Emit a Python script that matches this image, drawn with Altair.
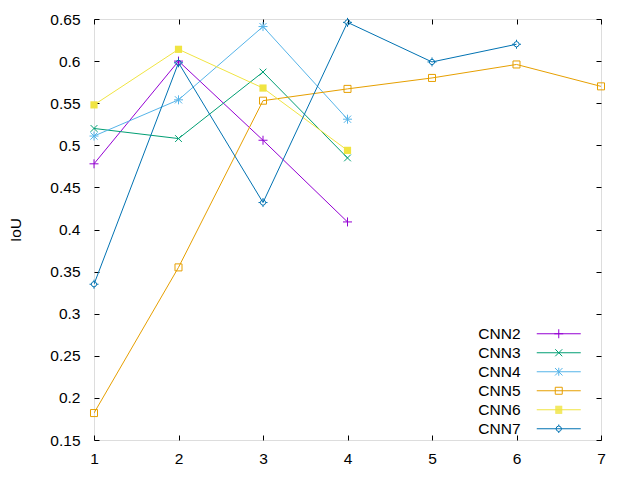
import altair as alt
import pandas as pd

series = ["CNN2", "CNN3", "CNN4", "CNN5", "CNN6", "CNN7"]
colors = ["#9400d3", "#009e73", "#56b4e9", "#e69f00", "#f0e442", "#0072b2"]

x_cnn2 = [1, 2, 3, 4]
iou_cnn2 = [0.478, 0.600, 0.506, 0.409]
x_cnn3 = [1, 2, 3, 4]
iou_cnn3 = [0.520, 0.508, 0.587, 0.485]
x_cnn4 = [1, 2, 3, 4]
iou_cnn4 = [0.511, 0.554, 0.641, 0.531]
x_cnn5 = [1, 2, 3, 4, 5, 6, 7]
iou_cnn5 = [0.182, 0.355, 0.553, 0.567, 0.580, 0.596, 0.570]
x_cnn6 = [1, 2, 3, 4]
iou_cnn6 = [0.548, 0.614, 0.568, 0.494]
x_cnn7 = [1, 2, 3, 4, 5, 6]
iou_cnn7 = [0.335, 0.598, 0.432, 0.646, 0.599, 0.620]

x_ticks = [1, 2, 3, 4, 5, 6, 7]
y_ticks = [0.15, 0.2, 0.25, 0.3, 0.35, 0.4, 0.45, 0.5, 0.55, 0.6, 0.65]

xs = [x_cnn2, x_cnn3, x_cnn4, x_cnn5, x_cnn6, x_cnn7]
ys = [iou_cnn2, iou_cnn3, iou_cnn4, iou_cnn5, iou_cnn6, iou_cnn7]
rows = []
for name, xv, yv in zip(series, xs, ys):
    for a, b in zip(xv, yv):
        rows.append({"series": name, "epoch": a, "iou": b})
df = pd.DataFrame(rows)

W, H = 507, 421
FONT = "Liberation Sans"
FS = 15.5


def ring(r):
    d = r * 0.707
    pts = [(r, 0), (d, d), (0, r), (-d, d), (-r, 0), (-d, -d), (0, -r), (d, -d)]
    return "M" + "L".join(f"{a:.3f},{b:.3f}" for a, b in pts) + "Z"


# plot markers (unit paths)
plus = "M-1,0L1,0M0,-1L0,1"
cross = "M-0.75,-0.75L0.75,0.75M-0.75,0.75L0.75,-0.75"
star = plus + "M-0.8,-0.8L0.8,0.8M-0.8,0.8L0.8,-0.8"
osq = "M-0.78,-0.78L0.78,-0.78L0.78,0.78L-0.78,0.78Z"
fsq = "M-0.8,-0.8L0.8,-0.8L0.8,0.8L-0.8,0.8Z"
circ = ring(0.6) + "M-1,0L-0.6,0M0.6,0L1,0M0,-1L0,-0.6M0,0.6L0,1"
marker_paths = [plus, cross, star, osq, fsq, circ]
marker_filled = [False, False, False, False, True, False]

# legend symbols: line sample + marker (unit = 5px)
ln = "M-4.4,0L4.4,0"
hatch = "".join(f"M-0.7,{y:.1f}L0.7,{y:.1f}" for y in [-0.7, -0.5, -0.3, -0.1, 0.1, 0.3, 0.5, 0.7])
legend_paths = [
    ln + "M-0.9,0L0.9,0M0,-0.9L0,0.9",
    ln + "M-0.7,-0.7L0.7,0.7M-0.7,0.7L0.7,-0.7",
    ln + "M0,-0.8L0,0.8M-0.75,-0.75L0.75,0.75M-0.75,0.75L0.75,-0.75",
    ln + "M-0.7,-0.7L0.7,-0.7L0.7,0.7L-0.7,0.7Z",
    ln + hatch,
    ln + ring(0.55) + "M0,-0.85L0,-0.55M0,0.55L0,0.85",
]

xscale = alt.Scale(domain=[1, 7], nice=False, zero=False)
yscale = alt.Scale(domain=[0.15, 0.65], nice=False, zero=False)

base = alt.Chart(df)

layers = []
for i, name in enumerate(series):
    if i == 0:
        xa = alt.Axis(orient="bottom", values=x_ticks, tickSize=0, domain=False, grid=False,
                      labelPadding=11, labelFontSize=FS, labelFont=FONT, labelColor="black",
                      labelFlush=False, title=None)
        ya = alt.Axis(orient="left", values=y_ticks, tickSize=0, domain=False, grid=False,
                      format="~g", labelPadding=14, labelFontSize=FS, labelFont=FONT,
                      labelColor="black", labelFlush=False, title="IoU", titleFont=FONT,
                      titleFontSize=FS, titleFontWeight="normal", titleColor="black",
                      titleAngle=-90, titleX=-79, titleY=H / 2, titleAlign="center",
                      titleBaseline="middle")
    else:
        xa = None
        ya = None
    line = base.transform_filter(alt.datum.series == name).mark_line(
        strokeWidth=1, color=colors[i], clip=True
    ).encode(
        x=alt.X("epoch:Q", scale=xscale, axis=xa),
        y=alt.Y("iou:Q", scale=yscale, axis=ya),
        order="epoch:Q",
    )
    layers.append(line)

for i, name in enumerate(series):
    if i == 0:
        xa = alt.Axis(orient="top", offset=-H, values=x_ticks, labels=False, tickSize=5,
                      tickColor="black", domain=False, grid=False, title=None)
        ya = alt.Axis(orient="right", offset=-W, values=y_ticks, labels=False, tickSize=5,
                      tickColor="black", domain=False, grid=False, title=None)
    else:
        xa = None
        ya = None
    pts = base.transform_filter(alt.datum.series == name).mark_point(
        shape=marker_paths[i], filled=marker_filled[i], size=81, strokeWidth=1,
        opacity=1, color=colors[i],
    ).encode(
        x=alt.X("epoch:Q", scale=xscale, axis=xa),
        y=alt.Y("iou:Q", scale=yscale, axis=ya),
    )
    layers.append(pts)

leg = alt.Legend(
    title=None, orient="none", legendX=457, legendY=307, labelAlign="right",
    labelOffset={"expr": "-46"}, symbolSize=100, symbolStrokeWidth=1, symbolOpacity=1,
    labelFontSize=FS, labelFont=FONT, labelColor="black", rowPadding=2,
    padding=0, labelLimit=200,
)

legend_layer = base.mark_point(filled=False, opacity=0).encode(
    x=alt.X("epoch:Q", scale=xscale, axis=alt.Axis(
        orient="bottom", offset=-H, values=x_ticks, labels=False, tickSize=5,
        tickColor="black", domain=False, grid=False, title=None)),
    y=alt.Y("iou:Q", scale=yscale, axis=alt.Axis(
        orient="left", offset=-W, values=y_ticks, labels=False, tickSize=5,
        tickColor="black", domain=False, grid=False, title=None)),
    color=alt.Color("series:N", scale=alt.Scale(domain=series, range=colors), legend=leg),
    shape=alt.Shape("series:N", scale=alt.Scale(domain=series, range=legend_paths), legend=leg),
)
layers.append(legend_layer)

chart = alt.layer(*layers).resolve_axis(x="independent", y="independent").properties(
    width=W, height=H,
    autosize=alt.AutoSizeParams(type="none"),
    padding={"left": 86, "top": 11, "right": 31, "bottom": 32},
).configure_view(stroke="black", strokeWidth=1).configure(font=FONT, background="white")

chart.save("out.html", embed_options={"renderer": "svg", "actions": False})
